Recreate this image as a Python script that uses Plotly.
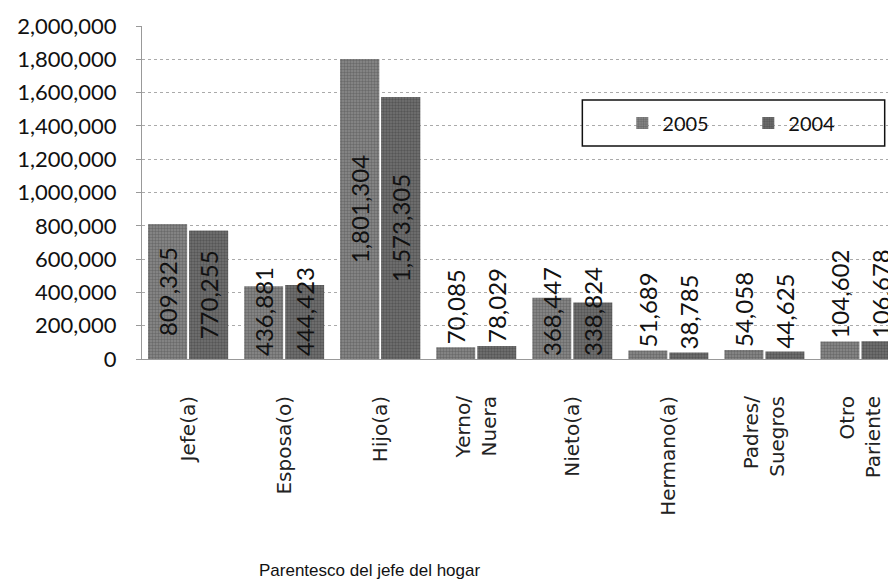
import plotly.graph_objects as go

categories = ["Jefe(a)", "Esposa(o)", "Hijo(a)", "Yerno/<br>Nuera", "Nieto(a)",
              "Hermano(a)", "Padres/<br>Suegros", "Otro<br>Pariente"]
values_2005 = [809325, 436881, 1801304, 70085, 368447, 51689, 54058, 104602]
values_2004 = [770255, 444423, 1573305, 78029, 338824, 38785, 44625, 106678]
y_ticks = list(range(0, 2000001, 200000))

NUM_FONT = "Lato, 'Open Sans', sans-serif"
CENTERED = {"Jefe(a)", "Hijo(a)"}  # tall bars: label sits mid-bar

# the page body adds an 8px margin, so the figure is drawn 8px smaller
# and the margins are trimmed by the same amount
W, H, PAD = 896, 585, 8


def _bars(name, vals, bg, fg):
    pattern = dict(shape=".", fgcolor=fg, bgcolor=bg, size=3, solidity=0.5)
    common = dict(
        x=categories, offsetgroup=name, legendgroup=name,
        textangle=-90, constraintext="none", cliponaxis=False,
        textfont=dict(family=NUM_FONT, size=24, color="#111"),
        marker=dict(color=bg, line=dict(width=0), pattern=pattern),
    )
    # base trace: every bar, label at the bar base (or above it when small)
    base = go.Bar(
        name=name, y=vals,
        text=["" if c in CENTERED else f"{v:,}" for c, v in zip(categories, vals)],
        textposition=["inside" if v >= 300000 else "outside" for v in vals],
        insidetextanchor="start", **common,
    )
    # overlay on the tall bars with the label centred
    tall = go.Bar(
        name=name, showlegend=False,
        y=[v if c in CENTERED else None for c, v in zip(categories, vals)],
        text=[f"{v:,}" if c in CENTERED else "" for c, v in zip(categories, vals)],
        textposition="inside", insidetextanchor="middle", **common,
    )
    return [base, tall]


fig = go.Figure()
for tr in _bars("2005", values_2005, "#8a8a8a", "#4a4a4a"):
    fig.add_trace(tr)
for tr in _bars("2004", values_2004, "#747474", "#383838"):
    fig.add_trace(tr)

fig.update_layout(
    width=W - PAD, height=H - PAD,
    margin=dict(l=142 - PAD, r=0, t=26 - PAD, b=226, autoexpand=False),
    paper_bgcolor="white", plot_bgcolor="white",
    barmode="group", bargap=0.146, bargroupgap=0.05,
    font=dict(family=NUM_FONT, color="#111"),
    legend=dict(
        orientation="h", x=0.637, y=0.709, xanchor="left", yanchor="middle",
        borderwidth=0, bgcolor="rgba(0,0,0,0)",
        font=dict(size=20, family=NUM_FONT),
        entrywidth=81, entrywidthmode="pixels", itemwidth=30,
    ),
    shapes=[dict(
        type="rect", xref="paper", yref="paper",
        x0=0.584, x1=0.985, y0=0.640, y1=0.778,
        line=dict(color="#111", width=1.5), fillcolor="rgba(0,0,0,0)", layer="above",
    )],
    annotations=[dict(
        text="Parentesco del jefe del hogar", xref="paper", yref="paper",
        x=0.1525, y=-0.634, xanchor="left", yanchor="middle", showarrow=False,
        font=dict(family="'Liberation Sans', Arial, sans-serif", size=17, color="#111"),
    )],
)
fig.update_xaxes(
    range=[-0.48, 7.37], tickangle=-90, showgrid=False, automargin=False,
    tickfont=dict(family="'DejaVu Sans', sans-serif", size=20, color="#222"),
    ticks="", ticklabelstandoff=28,
    showline=True, linecolor="#999", linewidth=1,
)
fig.update_yaxes(
    range=[0, 2000000], tickvals=y_ticks, tickformat=",d", automargin=False,
    tickfont=dict(size=22, family=NUM_FONT, color="#111"),
    showgrid=True, gridcolor="#aaa", griddash="dot", gridwidth=1,
    showline=True, linecolor="#999", linewidth=1,
    ticks="outside", ticklen=5, tickcolor="#999", ticklabelstandoff=15,
    zeroline=False,
)

fig.write_html("out.html")
